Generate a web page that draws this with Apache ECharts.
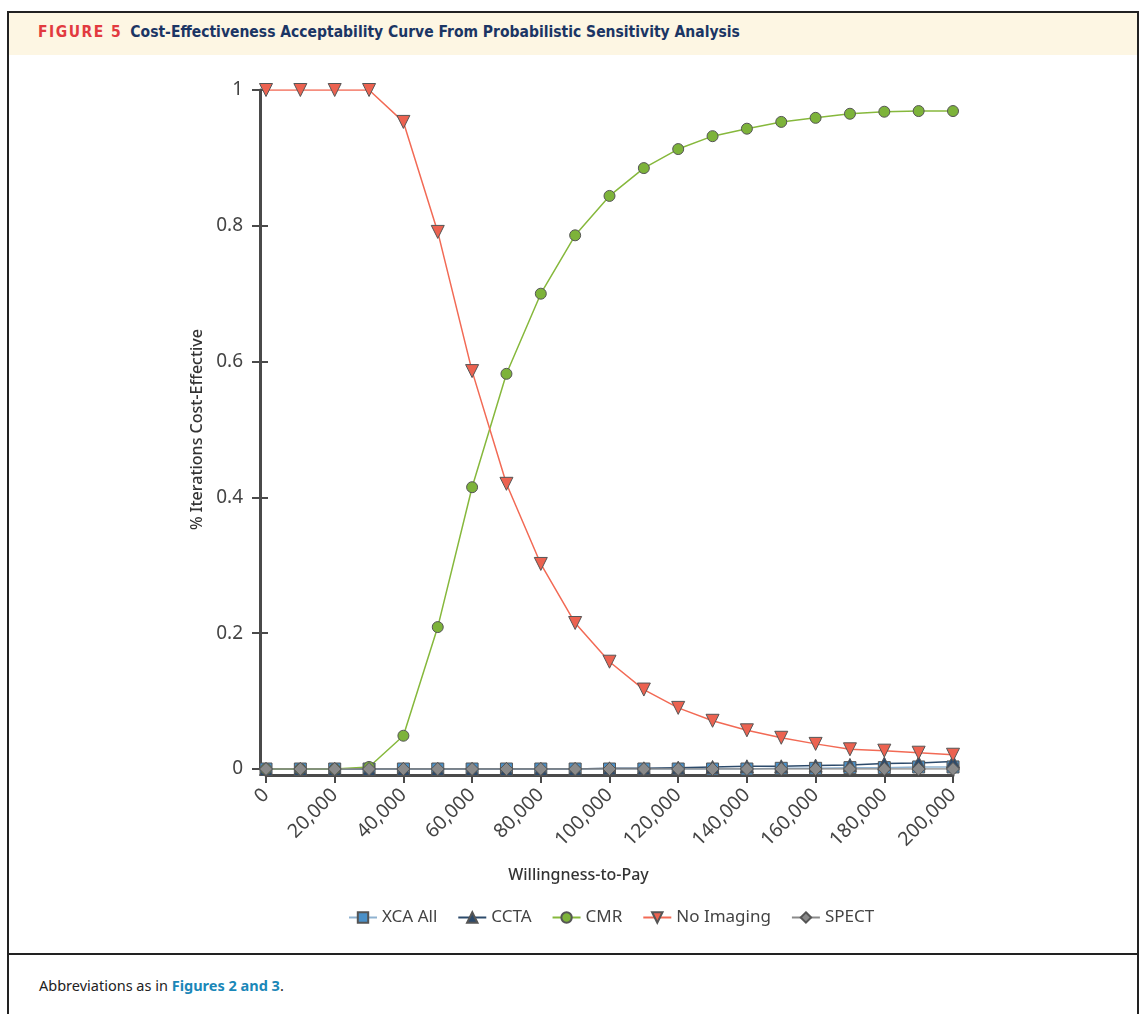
<!DOCTYPE html>
<html>
<head>
<meta charset="utf-8">
<script src="https://cdn.jsdelivr.net/npm/echarts@6/dist/echarts.min.js"></script>
<style>
  html, body { margin: 0; padding: 0; background: #fff; }
  .page { position: relative; width: 1142px; height: 1014px; overflow: hidden; font-family: "Noto Sans", sans-serif; }
  .frame { position: absolute; left: 7px; top: 11px; width: 1132px; height: 1010px; border: 2px solid #222; box-sizing: border-box; }
  .fig_header { position: absolute; left: 9px; top: 13px; width: 1128px; height: 42px; background: #fdf6e3; }
  .fig_title { position: absolute; left: 38px; top: 23px; font-size: 15.5px; font-weight: bold; font-family: "DejaVu Sans", sans-serif; font-stretch: condensed; color: #1b3564; white-space: nowrap; }
  .fig_title span { color: #e23a3f; letter-spacing: 1.5px; margin-right: 8px; }
  .divider { position: absolute; left: 7px; top: 953px; width: 1132px; height: 2px; background: #222; }
  .footer { position: absolute; left: 39px; top: 975px; font-size: 14.5px; color: #222; }
  .footer b { color: #1a87b8; }
  #chart { position: absolute; left: 0; top: 0; width: 1142px; height: 1014px; }
</style>
</head>
<body>
<div class="page">
  <div class="frame"></div>
  <div class="fig_header"></div>
  <div class="fig_title"><span>FIGURE 5</span>Cost-Effectiveness Acceptability Curve From Probabilistic Sensitivity Analysis</div>
  <div class="divider"></div>
  <div class="footer">Abbreviations as in <b>Figures 2 and 3</b>.</div>
  <div id="chart"></div>
</div>
<script>
  // willingness-to-pay steps
  var wtp = [0, 10000, 20000, 30000, 40000, 50000, 60000, 70000, 80000, 90000, 100000,
    110000, 120000, 130000, 140000, 150000, 160000, 170000, 180000, 190000, 200000];

  var xcaAll = [0, 0, 0, 0, 0, 0, 0, 0, 0, 0, 0, 0, 0, 0, 0, 0.001, 0.001, 0.002, 0.002, 0.003, 0.003];
  var ccta = [0, 0, 0, 0, 0, 0, 0, 0, 0, 0, 0.001, 0.001, 0.002, 0.003, 0.004, 0.004, 0.005, 0.006, 0.008, 0.009, 0.011];
  var cmr = [0, 0, 0, 0.003, 0.049, 0.209, 0.415, 0.582, 0.700, 0.786, 0.844, 0.885, 0.913, 0.932, 0.943,
    0.953, 0.959, 0.965, 0.968, 0.969, 0.969];
  var noImaging = [1, 1, 1, 1, 0.953, 0.791, 0.586, 0.420, 0.302, 0.215, 0.158, 0.117, 0.090, 0.071, 0.057,
    0.046, 0.037, 0.029, 0.027, 0.024, 0.021];
  var spect = [0, 0, 0, 0, 0, 0, 0, 0, 0, 0, 0, 0, 0, 0, 0, 0, 0, 0, 0, 0, 0];

  var yTicks = [0, 0.2, 0.4, 0.6, 0.8, 1];

  function pairs(vals) {
    return wtp.map(function (w, i) { return [w, vals[i]]; });
  }

  function mkSeries(name, vals, lineColor, fill, symbol, size, rotate) {
    return {
      name: name,
      type: 'line',
      data: pairs(vals),
      symbol: symbol,
      symbolSize: size,
      symbolRotate: rotate || 0,
      showAllSymbol: true,
      lineStyle: { color: lineColor, width: 1.5 },
      itemStyle: { color: fill, borderColor: '#555', borderWidth: 1 },
      emphasis: { disabled: true },
      animation: false
    };
  }

  var chart = echarts.init(document.getElementById('chart'), null, { renderer: 'canvas' });
  chart.setOption({
    textStyle: { fontFamily: 'Noto Sans' },
    grid: { left: 266, right: 189, top: 90, bottom: 245 },
    legend: {
      top: 904,
      left: 343,
      itemWidth: 28,
      itemHeight: 13,
      itemGap: 20,
      textStyle: { fontSize: 17, color: '#444' },
      data: ['XCA All', 'CCTA', 'CMR', 'No Imaging', 'SPECT']
    },
    xAxis: {
      type: 'value',
      min: 0,
      max: 200000,
      interval: 20000,
      offset: 6,
      name: 'Willingness-to-Pay',
      nameLocation: 'middle',
      nameGap: 92,
      nameTextStyle: { fontSize: 16, fontWeight: 500, color: '#333', padding: [0, 62, 0, 0] },
      axisLine: { onZero: false, lineStyle: { color: '#4a4a4a', width: 3 } },
      axisTick: { length: 8, lineStyle: { color: '#4a4a4a', width: 2 } },
      axisLabel: {
        rotate: 45,
        margin: 17,
        fontSize: 19.5,
        color: '#444',
        formatter: function (v) { return v.toLocaleString('en-US'); }
      },
      splitLine: { show: false }
    },
    yAxis: [{
      type: 'value',
      min: 0,
      max: 1,
      interval: 0.2,
      offset: 6,
      name: '% Iterations Cost-Effective',
      nameLocation: 'middle',
      nameRotate: 90,
      nameGap: 54,
      nameTextStyle: { fontSize: 16, fontWeight: 500, color: '#333' },
      axisLine: { show: true, onZero: false, lineStyle: { color: '#4a4a4a', width: 3 } },
      axisTick: { show: true, length: 8, lineStyle: { color: '#4a4a4a', width: 2 } },
      axisLabel: {
        margin: 17,
        fontSize: 19,
        color: '#444',
        formatter: function (v) {
          var t = yTicks.find(function (k) { return Math.abs(k - v) < 1e-9; });
          return t === undefined ? '' : String(t);
        }
      },
      splitLine: { show: false }
    }, {
      type: 'value',
      position: 'left',
      min: 0,
      max: 1,
      interval: 0.2,
      offset: 6,
      axisLine: { show: false, onZero: false },
      axisTick: { show: true, inside: true, length: 8, lineStyle: { color: '#4a4a4a', width: 2 } },
      axisLabel: { show: false },
      splitLine: { show: false }
    }],
    series: [
      mkSeries('XCA All', xcaAll, '#8fb2d0', '#4a90c8', 'rect', 12),
      mkSeries('CCTA', ccta, '#2c4a6b', '#2c4a6b', 'triangle', 13),
      mkSeries('CMR', cmr, '#86b83c', '#7db33a', 'circle', 11),
      mkSeries('No Imaging', noImaging, '#f26a55', '#ec6250', 'triangle', 13, 180),
      mkSeries('SPECT', spect, '#8a8a8a', '#8a8a8a', 'diamond', 13)
    ]
  });
</script>
</body>
</html>
